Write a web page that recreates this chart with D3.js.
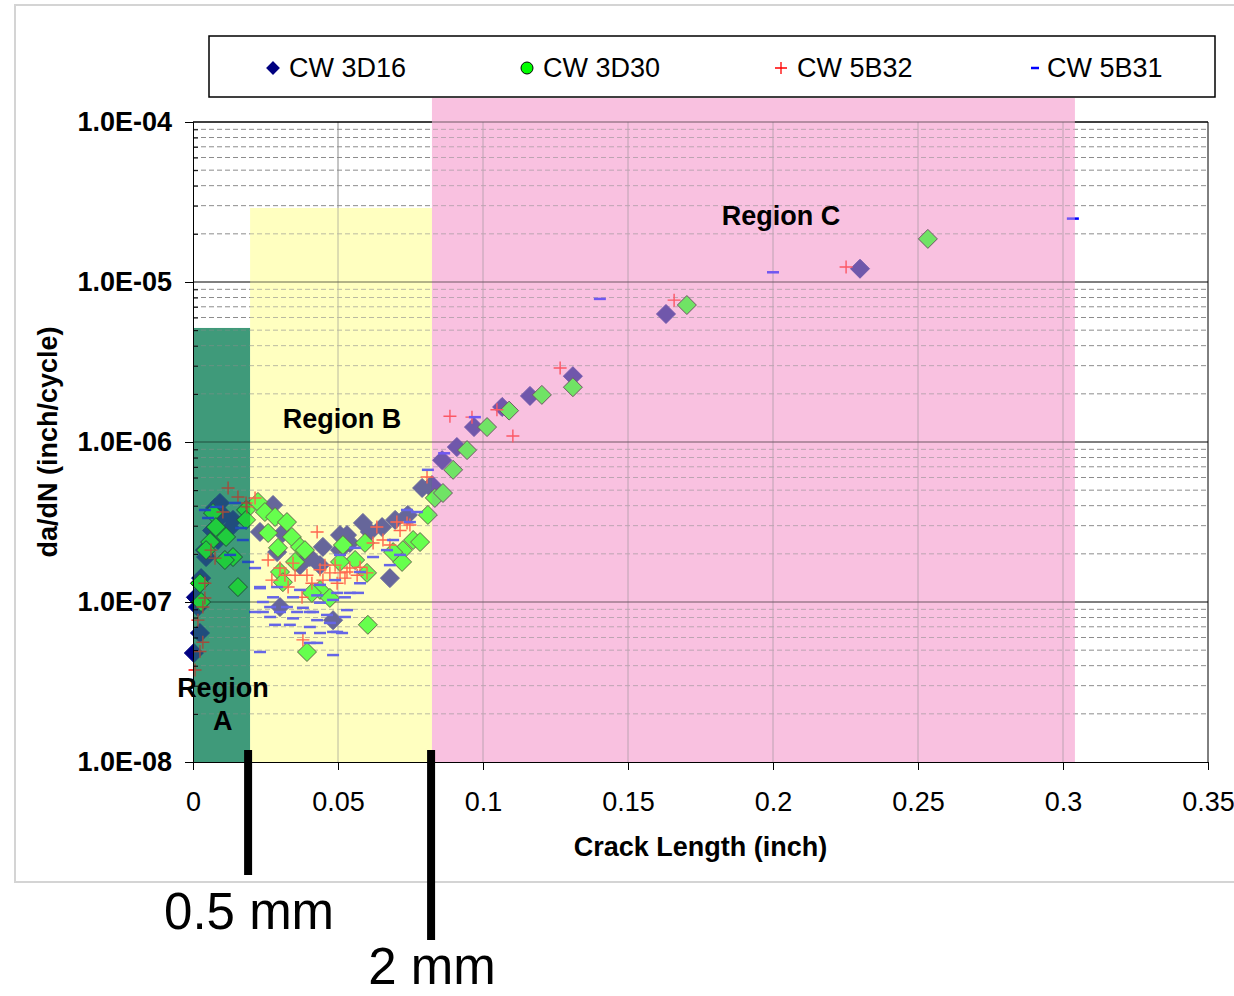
<!DOCTYPE html>
<html>
<head>
<meta charset="utf-8">
<script src="https://cdn.jsdelivr.net/npm/d3@7"></script>
<style>
  body { margin: 0; background: #fff; }
  svg text { font-family: "Liberation Sans", Arial, sans-serif; }
</style>
</head>
<body>
<svg id="chart"></svg>
<script>
const seriesNames = ['CW 3D16', 'CW 3D30', 'CW 5B32', 'CW 5B31'];

// CW 3D16 (diamonds)
const x3D16 = [0.0003, 0.0024, 0.0017, 0.0010, 0.0028, 0.0045, 0.0041, 0.0076, 0.0093, 0.0103, 0.0138, 0.0128, 0.0066, 0.0086,
  0.0276, 0.0231, 0.0310, 0.0290, 0.0403, 0.0448, 0.0507, 0.0507, 0.0541, 0.0586, 0.0610, 0.0652, 0.0531, 0.0679, 0.0483, 0.0300,
  0.0369, 0.0438, 0.0697, 0.0741, 0.0790, 0.0817,
  0.0824, 0.0859, 0.0910, 0.0969, 0.1066, 0.1162, 0.1310, 0.1631, 0.2300];
const y3D16 = [4.8e-8, 6.4e-8, 9.3e-8, 1.07e-7, 1.41e-7, 1.91e-7, 2.11e-7, 3.87e-7, 4.16e-7, 3.5e-7, 3.26e-7, 2.9e-7, 2.8e-7, 2.44e-7,
  4.04e-7, 2.74e-7, 2.7e-7, 2.05e-7, 1.91e-7, 2.21e-7, 2.62e-7, 2.11e-7, 2.34e-7, 3.12e-7, 2.74e-7, 2.94e-7, 2.62e-7, 1.41e-7, 7.7e-8, 9.3e-8,
  1.7e-7, 1.7e-7, 3.26e-7, 3.5e-7, 5.16e-7, 5.24e-7,
  5.38e-7, 7.7e-7, 9.3e-7, 1.24e-6, 1.655e-6, 1.94e-6, 2.58e-6, 6.31e-6, 1.21e-5];

// CW 3D30 (green)
const x3D30 = [0.0069, 0.0093, 0.0114, 0.0059, 0.0045, 0.0138, 0.0110, 0.0155, 0.0024, 0.0028, 0.0183, 0.0183, 0.0079,
  0.0224, 0.0248, 0.0283, 0.0324, 0.0259, 0.0341, 0.0293, 0.0369, 0.0386, 0.0517, 0.0559, 0.0593, 0.0507, 0.0438,
  0.0410, 0.0472, 0.0352, 0.0300, 0.0310, 0.0393, 0.0603, 0.0724, 0.0721, 0.0759, 0.0783, 0.0690, 0.0600, 0.0810,
  0.0834, 0.0862, 0.0897, 0.0945, 0.1014, 0.1090, 0.1203, 0.1310, 0.1703, 0.2534];
const y3D30 = [3.6e-7, 2.74e-7, 2.55e-7, 2.37e-7, 2.11e-7, 1.91e-7, 1.83e-7, 1.24e-7, 1.31e-7, 1.0e-7, 3.76e-7, 3.26e-7, 2.94e-7,
  4.22e-7, 3.65e-7, 3.4e-7, 3.16e-7, 2.7e-7, 2.55e-7, 2.18e-7, 2.21e-7, 2.11e-7, 2.27e-7, 1.83e-7, 2.34e-7, 1.78e-7, 1.19e-7,
  1.14e-7, 1.06e-7, 1.78e-7, 1.54e-7, 1.33e-7, 4.87e-8, 7.2e-8, 2.11e-7, 1.78e-7, 2.44e-7, 2.37e-7, 2.05e-7, 1.52e-7, 3.5e-7,
  4.47e-7, 4.8e-7, 6.7e-7, 8.9e-7, 1.24e-6, 1.57e-6, 1.97e-6, 2.2e-6, 7.18e-6, 1.86e-5];

// CW 5B32 (red plus)
const x5B32 = [0.0121, 0.0155, 0.0183, 0.0103, 0.0062, 0.0076, 0.0041, 0.0034, 0.0017, 0.0034, 0.0024, 0.0007, 0.0041,
  0.0186, 0.0214, 0.0428, 0.0259, 0.0272, 0.0328, 0.0300, 0.0376, 0.0379, 0.0393, 0.0438, 0.0472, 0.0507, 0.0541,
  0.0576, 0.0621, 0.0634, 0.0703, 0.0600, 0.0448, 0.0410, 0.0345, 0.0738, 0.0531, 0.0317, 0.0490, 0.0655,
  0.0455, 0.0524, 0.0566, 0.0497, 0.0352, 0.0714, 0.0748, 0.0679,
  0.0807, 0.0886, 0.0962, 0.1048, 0.1103, 0.1266, 0.1659, 0.2252];
const y5B32 = [5.16e-7, 4.53e-7, 4.16e-7, 3.65e-7, 2.11e-7, 1.88e-7, 1.31e-7, 9.3e-8, 7.7e-8, 5.6e-8, 4.9e-8, 3.76e-8, 1.06e-7,
  3.93e-7, 4.47e-7, 2.74e-7, 1.83e-7, 1.37e-7, 1.24e-7, 1.63e-7, 1.07e-7, 5.8e-8, 1.47e-7, 1.59e-7, 1.52e-7, 1.52e-7, 1.63e-7,
  1.65e-7, 2.34e-7, 2.94e-7, 3.16e-7, 1.52e-7, 1.37e-7, 1.31e-7, 1.75e-7, 3.12e-7, 1.54e-7, 1.47e-7, 1.7e-7, 2.44e-7,
  1.7e-7, 1.41e-7, 1.47e-7, 1.31e-7, 1.47e-7, 2.8e-7, 3.03e-7, 2.27e-7,
  6.04e-7, 1.45e-6, 1.43e-6, 1.59e-6, 1.09e-6, 2.9e-6, 7.7e-6, 1.24e-5];

// CW 5B31 (blue dash)
const x5B31 = [0.0079, 0.0052, 0.0145, 0.0166, 0.0172, 0.0190, 0.0128, 0.0041,
  0.0214, 0.0231, 0.0241, 0.0266, 0.0324, 0.0379, 0.0241, 0.0300, 0.0359, 0.0414, 0.0462, 0.0266, 0.0345, 0.0428, 0.0334,
  0.0403, 0.0472, 0.0369, 0.0483, 0.0428, 0.0231, 0.0231, 0.0276, 0.0345, 0.0428, 0.0497, 0.0541, 0.0483, 0.0531, 0.0497,
  0.0483, 0.0569, 0.0738, 0.0772, 0.0690, 0.0669, 0.0621, 0.0576, 0.0524, 0.0514, 0.0679, 0.0507, 0.0559, 0.0290,
  0.0438, 0.0403, 0.0214, 0.0524, 0.0283, 0.0438, 0.0403, 0.0576, 0.0438, 0.0369, 0.0490, 0.0714, 0.0748,
  0.0810, 0.0866, 0.0972, 0.1403, 0.2000, 0.3034];
const y5B31 = [3.93e-7, 3.35e-7, 4.16e-7, 2.9e-7, 2.44e-7, 1.78e-7, 1.97e-7, 3.76e-7,
  1.63e-7, 1.24e-7, 1.0e-7, 9.3e-8, 9.3e-8, 9.2e-8, 8.66e-8, 8.66e-8, 8.66e-8, 8.66e-8, 8.3e-8, 8.06e-8, 7.9e-8, 7.7e-8, 7.2e-8,
  6.98e-8, 7.4e-8, 6.4e-8, 6.5e-8, 5.55e-8, 4.87e-8, 1.22e-7, 1.07e-7, 1.07e-7, 1.1e-7, 1.14e-7, 1.14e-7, 1.03e-7, 8.9e-8, 6.5e-8,
  4.66e-8, 1.14e-7, 3.76e-7, 3.65e-7, 2.44e-7, 2.11e-7, 1.91e-7, 1.54e-7, 1.07e-7, 6.4e-8, 1.7e-7, 1.97e-7, 2.18e-7, 1.24e-7,
  9.9e-8, 8.66e-8, 8.66e-8, 8.06e-8, 7.2e-8, 6.4e-8, 5.55e-8, 1.31e-7, 1.28e-7, 1.19e-7, 1.37e-7, 1.97e-7, 3.16e-7,
  6.7e-7, 8.5e-7, 1.43e-6, 7.84e-6, 1.15e-5, 2.49e-5];

// shaded regions
const regionNames = ['Region A', 'Region B', 'Region C'];
const regionX0 = [0, 0.0197, 0.0824];
const regionX1 = [0.0197, 0.0824, 0.3041];
const regionTop = [5.16e-6, 2.9e-5, 1.41e-4];

// axis ticks
const xTicks = [0, 0.05, 0.1, 0.15, 0.2, 0.25, 0.3, 0.35];
const yTicks = [1e-8, 1e-7, 1e-6, 1e-5, 1e-4];

// annotation bars (0.5 mm, 2 mm)
const markLabels = ['0.5 mm', '2 mm'];
const markX = [0.0190, 0.0821];

const margin = { top: 122, left: 193, bottom: 234, right: 26 };
const W = 1234, H = 996;
const width = W - margin.left - margin.right;
const height = H - margin.top - margin.bottom;

const xScale = d3.scaleLinear().domain([0, 0.35]).range([0, width]);
const yScale = d3.scaleLog().domain([1e-8, 1e-4]).range([height, 0]);

const svg = d3.select('#chart').attr('width', W).attr('height', H);

// outer chart border
svg.append('rect')
  .attr('x', 15).attr('y', 5).attr('width', 1240).attr('height', 877)
  .attr('fill', '#fff').attr('stroke', '#d4d4d4').attr('stroke-width', 2);

const g = svg.append('g').attr('transform', `translate(${margin.left}, ${margin.top})`);

const regionColors = ['#3f9a7a', '#ffffc0', '#f9c2e0'];
const regionAlpha = [0.5, 0.4, 0.45];
const regions = regionNames.map((n, i) => ({ name: n, x0: regionX0[i], x1: regionX1[i], top: regionTop[i], color: regionColors[i], alpha: regionAlpha[i] }));

// region fills underneath
g.selectAll('.region-bg')
  .data(regions)
  .enter()
  .append('rect')
  .attr('x', d => xScale(d.x0))
  .attr('y', d => yScale(d.top))
  .attr('width', d => xScale(d.x1) - xScale(d.x0))
  .attr('height', d => height - yScale(d.top))
  .attr('fill', d => d.color);

// minor gridlines
const minor = [];
for (let e = -8; e < -4; e++) {
  for (let k = 2; k <= 9; k++) minor.push(k * Math.pow(10, e));
}
g.selectAll('.minor')
  .data(minor)
  .enter()
  .append('line')
  .attr('x1', 0).attr('x2', width)
  .attr('y1', d => yScale(d)).attr('y2', d => yScale(d))
  .attr('stroke', '#8c8c8c').attr('stroke-dasharray', '5,3');

// vertical gridlines
g.selectAll('.vgrid')
  .data(xTicks.slice(1, -1))
  .enter()
  .append('line')
  .attr('x1', d => xScale(d)).attr('x2', d => xScale(d))
  .attr('y1', 0).attr('y2', height)
  .attr('stroke', '#8c8c8c');

// major gridlines
g.selectAll('.major')
  .data(yTicks.slice(1))
  .enter()
  .append('line')
  .attr('x1', 0).attr('x2', width)
  .attr('y1', d => yScale(d)).attr('y2', d => yScale(d))
  .attr('stroke', '#000');

// right frame
g.append('line')
  .attr('x1', width).attr('x2', width).attr('y1', 0).attr('y2', height)
  .attr('stroke', '#000');

// markers
const diamond = r => `M0,${-r}L${r},0L0,${r}L${-r},0Z`;
const plus = r => `M${-r},0H${r}M0,${-r}V${r}`;
const dash = r => `M${-r},0H${r}`;

const series = [
  { name: seriesNames[0], xs: x3D16, ys: y3D16, path: diamond(9.5), fill: '#000080', stroke: '#000080', sw: 1 },
  { name: seriesNames[1], xs: x3D30, ys: y3D30, path: diamond(9.5), fill: '#00ff00', stroke: '#000', sw: 1 },
  { name: seriesNames[2], xs: x5B32, ys: y5B32, path: plus(6.5), fill: 'none', stroke: '#ff0000', sw: 1.4 },
  { name: seriesNames[3], xs: x5B31, ys: y5B31, path: dash(6), fill: 'none', stroke: '#0000ff', sw: 2.5 }
];

series.forEach(s => {
  g.append('g')
    .selectAll('path')
    .data(s.xs.map((x, i) => [x, s.ys[i]]))
    .enter()
    .append('path')
    .attr('transform', d => `translate(${xScale(d[0])}, ${yScale(d[1])})`)
    .attr('d', s.path)
    .attr('fill', s.fill)
    .attr('stroke', s.stroke)
    .attr('stroke-width', s.sw);
});

// region tint on top of the markers
g.selectAll('.region-fg')
  .data(regions)
  .enter()
  .append('rect')
  .attr('x', d => xScale(d.x0))
  .attr('y', d => yScale(d.top))
  .attr('width', d => xScale(d.x1) - xScale(d.x0))
  .attr('height', d => height - yScale(d.top))
  .attr('fill', d => d.color)
  .attr('opacity', d => d.alpha);

// top frame outside region C
g.append('line')
  .attr('x1', 0).attr('x2', xScale(regionX0[2])).attr('y1', 0).attr('y2', 0)
  .attr('stroke', '#000');
g.append('line')
  .attr('x1', xScale(regionX1[2])).attr('x2', width).attr('y1', 0).attr('y2', 0)
  .attr('stroke', '#000');

// axes
const fmt = d => {
  const e = Math.round(Math.log10(d));
  return '1.0E-' + String(-e).padStart(2, '0');
};

const yAxis = d3.axisLeft(yScale).tickValues(yTicks).tickFormat(fmt).tickSize(8).tickPadding(13);
const yAx = g.append('g').call(yAxis);
yAx.select('.domain').attr('stroke', '#000');
yAx.selectAll('text').attr('font-size', 27).attr('font-weight', 'bold').attr('fill', '#000');

const yMinor = d3.axisRight(yScale).tickValues(minor).tickFormat('').tickSize(5);
g.append('g').call(yMinor).select('.domain').remove();

const xAxis = d3.axisBottom(xScale).tickValues(xTicks).tickFormat(d => String(d)).tickSize(8).tickPadding(22);
const xAx = g.append('g').attr('transform', `translate(0, ${height})`).call(xAxis);
xAx.selectAll('text').attr('font-size', 27).attr('fill', '#000');

// axis titles
svg.append('text')
  .attr('x', margin.left + width / 2).attr('y', 856)
  .attr('text-anchor', 'middle')
  .attr('font-size', 27).attr('font-weight', 'bold')
  .text('Crack Length (inch)');

svg.append('text')
  .attr('transform', `translate(57, ${margin.top + height / 2}) rotate(-90)`)
  .attr('text-anchor', 'middle')
  .attr('font-size', 27).attr('font-weight', 'bold')
  .text('da/dN (inch/cycle)');

// region labels (baseline positions in data units)
const labelPos = [[0.0103, 2.55e-8], [0.0514, 1.22e-6], [0.2028, 2.27e-5]];
g.append('text')
  .attr('x', xScale(labelPos[0][0])).attr('y', yScale(labelPos[0][1]))
  .attr('text-anchor', 'middle').attr('font-size', 27).attr('font-weight', 'bold')
  .selectAll('tspan')
  .data(['Region', 'A'])
  .enter()
  .append('tspan')
  .attr('x', xScale(labelPos[0][0]))
  .attr('dy', (d, i) => i === 0 ? 0 : 33)
  .text(d => d);

[1, 2].forEach(i => {
  g.append('text')
    .attr('x', xScale(labelPos[i][0])).attr('y', yScale(labelPos[i][1]))
    .attr('text-anchor', 'middle').attr('font-size', 27).attr('font-weight', 'bold')
    .text(regionNames[i]);
});

// legend
const legend = svg.append('g');
legend.append('rect')
  .attr('x', 209).attr('y', 36).attr('width', 1006).attr('height', 61)
  .attr('fill', '#fff').attr('stroke', '#000').attr('stroke-width', 1.5);

const legendShapes = [diamond(6), null, plus(6), dash(4)];
series.forEach((s, i) => {
  const lx = 273 + i * 254;
  const item = legend.append('g').attr('transform', `translate(${lx}, 68)`);
  if (i === 1) {
    item.append('circle').attr('r', 6).attr('fill', '#00ff00').attr('stroke', '#000').attr('stroke-width', 1);
  } else {
    item.append('path').attr('d', legendShapes[i])
      .attr('fill', i === 0 ? '#000080' : 'none')
      .attr('stroke', s.stroke).attr('stroke-width', i === 3 ? 2.5 : 1.3);
  }
  item.append('text')
    .attr('x', i === 3 ? 12 : 16).attr('y', 9)
    .attr('font-size', 27).attr('fill', '#000')
    .text(s.name);
});

// annotation bars
const barBottom = [875, 940];
const labelY = [929, 984];
markX.forEach((m, i) => {
  svg.append('rect')
    .attr('x', margin.left + xScale(m) - 4).attr('y', 750)
    .attr('width', 8).attr('height', barBottom[i] - 750)
    .attr('fill', '#000');
  svg.append('text')
    .attr('x', margin.left + xScale(m) + 1).attr('y', labelY[i])
    .attr('text-anchor', 'middle')
    .attr('font-size', 51).attr('fill', '#000')
    .text(markLabels[i]);
});
</script>
</body>
</html>
